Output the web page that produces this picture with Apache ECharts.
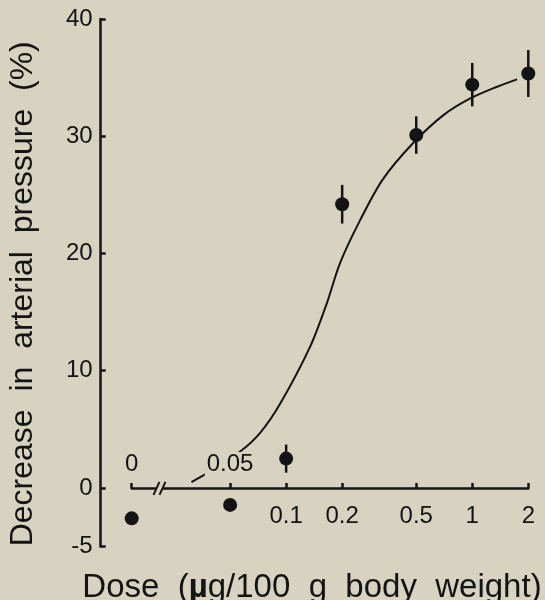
<!DOCTYPE html>
<html>
<head>
<meta charset="utf-8">
<script src="https://cdn.jsdelivr.net/npm/echarts@6/dist/echarts.min.js"></script>
<style>
  html, body { margin: 0; padding: 0; background: #d8d2c1; }
  #chart { width: 545px; height: 600px; }
</style>
</head>
<body>
<div id="chart"></div>
<script>
// dose 0 is drawn at a stand-in position on the log axis, left of the break
var zeroDose = 0.0148;
var breakAt = 0.021;

// measured points (mean +/- error)
var pointDose = [zeroDose, 0.05, 0.1, 0.2, 0.5, 1, 2];
var pointValue = [-2.6, -1.45, 2.5, 24.2, 30.1, 34.4, 35.35];
var pointErr = [0, 0, 1.2, 1.65, 1.6, 1.85, 2.0];

// fitted curve
var curveDose = [0.031, 0.038, 0.0566, 0.0725, 0.093, 0.1346, 0.165, 0.195, 0.249, 0.33, 0.48, 0.70, 0.97, 1.35, 1.74];
var curveValue = [0.5, 1.3, 3.1, 4.7, 7.2, 12.05, 15.7, 19.2, 22.8, 26.3, 29.4, 31.8, 33.2, 34.2, 34.85];

// axis ticks
var xTicks = [zeroDose, 0.05, 0.1, 0.2, 0.5, 1, 2];
var xLabelsBelow = [0.1, 0.2, 0.5, 1, 2];
var xLabelsAbove = [[zeroDose, '0'], [0.05, '0.05']];
var yTicks = [-5, 0, 10, 20, 30, 40];

var bg = '#d8d2c1';
var ink = '#141414';
var font = 'Liberation Sans, Arial, sans-serif';

var chart = echarts.init(document.getElementById('chart'));

var points = pointDose.map(function (d, i) { return [d, pointValue[i]]; });
var bars = pointDose.map(function (d, i) { return [d, pointValue[i] - pointErr[i], pointValue[i] + pointErr[i]]; })
    .filter(function (b) { return b[2] > b[1]; });
var curve = curveDose.map(function (d, i) { return [d, curveValue[i]]; });

chart.setOption({
    backgroundColor: bg,
    animation: false,
    textStyle: { fontFamily: font, color: ink },
    grid: { left: 131.7, right: 16.7, top: 19, bottom: 53.5, containLabel: false, outerBoundsMode: 'none' },
    xAxis: {
        type: 'log',
        logBase: 10,
        min: zeroDose,
        max: 2,
        // lift the dose axis from the grid bottom (-5) up to the zero line
        offset: -58.5,
        name: 'Dose  ({b|µ}g/100  g  body  weight)',
        nameLocation: 'middle',
        nameGap: 83,
        nameTextStyle: {
            fontSize: 33, color: ink, fontFamily: font,
            padding: [0, 36, 0, 0],
            rich: { b: { fontSize: 33, fontWeight: 'bold', color: ink, fontFamily: font } }
        },
        axisLine: { onZero: false, lineStyle: { color: ink, width: 2.5 } },
        axisTick: { inside: true, length: 5, customValues: xTicks, lineStyle: { color: ink, width: 2.5 } },
        axisLabel: {
            customValues: xLabelsBelow,
            margin: 16,
            fontSize: 24,
            color: ink,
            formatter: function (v) { return String(+v.toPrecision(3)); }
        },
        splitLine: { show: false },
        minorTick: { show: false },
        minorSplitLine: { show: false }
    },
    yAxis: {
        type: 'value',
        min: -5,
        max: 40,
        offset: 31,
        name: 'Decrease  in  arterial  pressure  (%)',
        nameLocation: 'middle',
        nameGap: 62,
        nameTextStyle: { fontSize: 32, color: ink, fontFamily: font, padding: [0, 22, 0, 0] },
        axisLine: { show: true, onZero: false, lineStyle: { color: ink, width: 2.5 } },
        axisTick: { show: true, inside: true, length: 5, customValues: yTicks, lineStyle: { color: ink, width: 2.5 } },
        axisLabel: { customValues: yTicks, margin: 8, fontSize: 24, color: ink },
        splitLine: { show: false }
    },
    series: [
        {
            name: 'fit',
            type: 'line',
            data: curve,
            smooth: 0.3,
            showSymbol: false,
            lineStyle: { color: ink, width: 2 },
            z: 2
        },
        {
            name: 'error',
            type: 'custom',
            data: bars,
            renderItem: function (params, api) {
                var lo = api.coord([api.value(0), api.value(1)]);
                var hi = api.coord([api.value(0), api.value(2)]);
                return {
                    type: 'line',
                    shape: { x1: lo[0], y1: lo[1], x2: hi[0], y2: hi[1] },
                    style: { stroke: ink, lineWidth: 2.5 }
                };
            },
            z: 3
        },
        {
            name: 'mean',
            type: 'scatter',
            data: points,
            symbol: 'circle',
            symbolSize: 14,
            itemStyle: { color: ink, opacity: 1 },
            z: 4
        },
        {
            name: 'labels above',
            type: 'scatter',
            data: xLabelsAbove.map(function (l) { return { value: [l[0], 0], name: l[1] }; }),
            symbolSize: 0,
            silent: true,
            itemStyle: { opacity: 1 },
            label: {
                show: true,
                position: 'top',
                distance: 12,
                formatter: '{b}',
                fontSize: 24,
                color: ink,
                opacity: 1,
                fontFamily: font,
                backgroundColor: bg,
                padding: [0, 2]
            },
            z: 5
        }
    ]
});

// axis break marks "//" on the dose axis
var bx = chart.convertToPixel({ xAxisIndex: 0 }, breakAt);
var by = chart.convertToPixel({ yAxisIndex: 0 }, 0);
chart.setOption({
    graphic: [
        { type: 'rect', shape: { x: bx - 3, y: by - 3, width: 6, height: 6 }, style: { fill: bg }, z: 10 },
        { type: 'line', shape: { x1: bx - 6.5, y1: by + 7, x2: bx - 0.5, y2: by - 6 }, style: { stroke: ink, lineWidth: 2 }, z: 11 },
        { type: 'line', shape: { x1: bx - 0.5, y1: by + 7, x2: bx + 5.5, y2: by - 6 }, style: { stroke: ink, lineWidth: 2 }, z: 11 }
    ]
});
</script>
</body>
</html>
